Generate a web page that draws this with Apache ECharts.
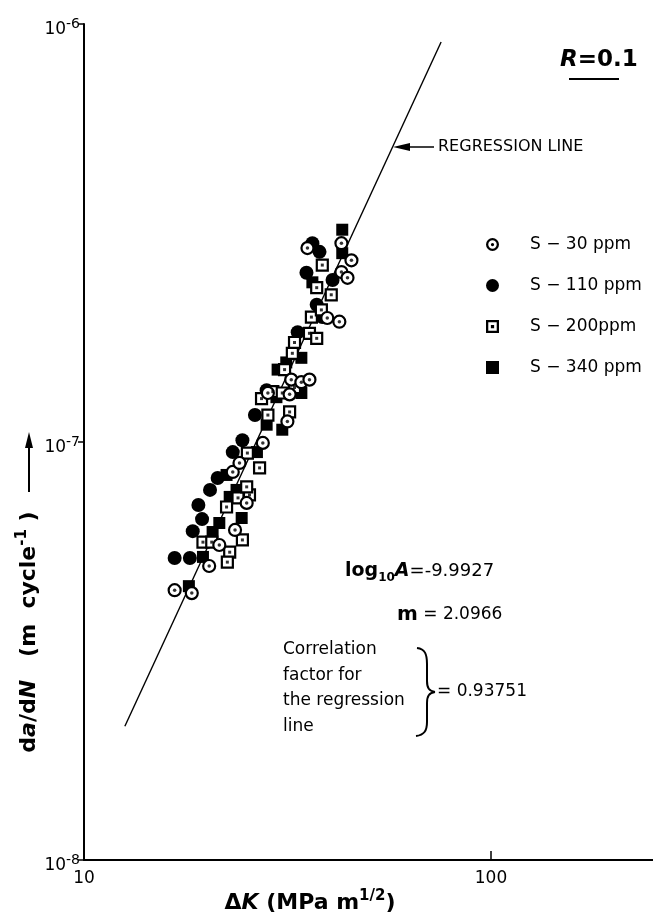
<!DOCTYPE html>
<html><head><meta charset="utf-8">
<script src="https://cdn.jsdelivr.net/npm/echarts@6/dist/echarts.min.js"></script>
<style>html,body{margin:0;padding:0;background:#fff}#c{width:653px;height:916px}</style>
</head><body><div id="c"></div>
<script>
// ---- data (ΔK in MPa m^1/2, da/dN in m/cycle) ----
const legendNames = ['S − 30 ppm', 'S − 110 ppm', 'S − 200ppm', 'S − 340 ppm'];
const s30 = [[16.7,4.42e-8],[18.4,4.35e-8],[20.3,5.05e-8],[21.5,5.67e-8],[23.5,6.16e-8],[25.1,7.15e-8],[23.2,8.48e-8],[24.1,8.91e-8],[27.5,9.95e-8],[31.6,1.12e-7],[28.3,1.31e-7],[32.0,1.30e-7],[32.3,1.41e-7],[34.2,1.39e-7],[35.8,1.41e-7],[39.6,1.98e-7],[42.4,1.94e-7],[35.4,2.91e-7],[42.9,2.99e-7],[45.4,2.72e-7],[42.9,2.55e-7],[44.4,2.47e-7]];
const s110 = [[16.7,5.28e-8],[18.2,5.28e-8],[18.5,6.12e-8],[19.5,6.54e-8],[19.1,7.07e-8],[20.4,7.68e-8],[21.3,8.20e-8],[23.2,9.46e-8],[24.5,1.01e-7],[26.3,1.16e-7],[28.1,1.33e-7],[33.5,1.83e-7],[37.3,2.13e-7],[38.5,1.99e-7],[36.4,2.99e-7],[37.9,2.85e-7],[35.2,2.54e-7],[40.8,2.44e-7]];
const s200 = [[19.6,5.76e-8],[20.6,5.76e-8],[22.8,5.45e-8],[22.5,5.16e-8],[24.5,5.83e-8],[22.4,6.99e-8],[23.9,7.35e-8],[25.5,7.47e-8],[25.2,9.41e-8],[27.0,8.67e-8],[28.3,1.16e-7],[32.0,1.18e-7],[27.3,1.27e-7],[25.1,7.81e-8],[36.2,1.99e-7],[35.8,1.82e-7],[37.3,1.77e-7],[32.9,1.73e-7],[32.5,1.63e-7],[31.1,1.49e-7],[32.9,1.35e-7],[29.1,1.32e-7],[30.7,1.31e-7],[38.5,2.65e-7],[37.3,2.34e-7],[40.5,2.25e-7],[38.3,2.07e-7]];
const s340 = [[18.1,4.52e-8],[19.6,5.31e-8],[20.7,6.09e-8],[21.5,6.40e-8],[24.4,6.58e-8],[22.8,7.39e-8],[22.4,8.34e-8],[26.6,9.46e-8],[23.7,7.68e-8],[28.1,1.10e-7],[30.7,1.07e-7],[29.7,1.28e-7],[34.2,1.59e-7],[31.4,1.55e-7],[29.9,1.49e-7],[36.4,2.41e-7],[43.1,3.22e-7],[43.1,2.83e-7],[34.2,1.31e-7]];
const regressionLine = [[12.6,2.09e-8],[75.4,9.06e-7]];
const xRange = [10, 250];
const yRange = [1e-8, 1e-6];

const FONT = 'DejaVu Sans';
const ringDot = 'path://M0,-10 A10,10 0 1 1 0,10 A10,10 0 1 1 0,-10 Z M0,-6.5 A6.5,6.5 0 1 0 0,6.5 A6.5,6.5 0 1 0 0,-6.5 Z M0,-2.5 A2.5,2.5 0 1 1 0,2.5 A2.5,2.5 0 1 1 0,-2.5 Z';
const squareDot = 'path://M-10,-10 L10,-10 L10,10 L-10,10 Z M-6.5,-6.5 L-6.5,6.5 L6.5,6.5 L6.5,-6.5 Z M-2.5,-2.5 L2.5,-2.5 L2.5,2.5 L-2.5,2.5 Z';

function isPow10(v){ const l = Math.log10(v); return Math.abs(l - Math.round(l)) < 1e-6; }
const stroke = {stroke:'#000', lineWidth:2, fill:null};

const chart = echarts.init(document.getElementById('c'), null, {renderer:'canvas'});
const option = {
  animation: false,
  backgroundColor: '#fff',
  grid: {left:84, right:0, top:24, bottom:56, containLabel:false, outerBoundsMode:'none'},
  xAxis: {
    type:'log', logBase:10, min:xRange[0], max:xRange[1],
    axisLine:{show:true, lineStyle:{color:'#000', width:2}},
    axisTick:{show:true, inside:true, length:9, lineStyle:{color:'#000', width:1.5}},
    minorTick:{show:false}, splitLine:{show:false}, minorSplitLine:{show:false},
    axisLabel:{show:true, color:'#000', fontFamily:FONT, fontSize:17, margin:10,
      showMaxLabel:false,
      formatter: v => isPow10(v) ? String(Math.round(v)) : ''}
  },
  yAxis: {
    type:'log', logBase:10, min:yRange[0], max:yRange[1],
    axisLine:{show:true, lineStyle:{color:'#000', width:2}},
    axisTick:{show:true, inside:false, length:6, lineStyle:{color:'#000', width:1.5}},
    minorTick:{show:false}, splitLine:{show:false}, minorSplitLine:{show:false},
    axisLabel:{show:true, color:'#000', fontFamily:FONT, margin:4, padding:[12,0,0,0],
      formatter: v => isPow10(v) ? '{b|10}{s|' + Math.round(Math.log10(v)) + '}' : '',
      rich:{b:{fontFamily:FONT, fontSize:17, color:'#000', lineHeight:26, verticalAlign:'middle'},
            s:{fontFamily:FONT, fontSize:14, color:'#000', lineHeight:14, verticalAlign:'top'}}}
  },
  legend: {
    orient:'vertical', left:481, top:231, itemWidth:13, itemHeight:13, itemGap:24,
    selectedMode:false,
    formatter: n => '{sp|}{t|' + n + '}',
    textStyle:{color:'#000', fontFamily:FONT, fontSize:17,
      rich:{sp:{width:26}, t:{fontFamily:FONT, fontSize:17, color:'#000'}}},
    data:[
      {name:legendNames[0], icon:ringDot, itemStyle:{color:'#000', borderWidth:0}},
      {name:legendNames[1], icon:'circle', itemStyle:{color:'#000', borderWidth:0}},
      {name:legendNames[2], icon:squareDot, itemStyle:{color:'#000', borderWidth:0}},
      {name:legendNames[3], icon:'rect', itemStyle:{color:'#000', borderWidth:0}}
    ]
  },
  series: [
    {type:'line', name:'regression', data:regressionLine, symbol:'none', silent:true,
     lineStyle:{color:'#000', width:1.4}, z:1},
    {type:'scatter', name:legendNames[1], data:s110, symbol:'circle', symbolSize:14, silent:true,
     itemStyle:{color:'#000', opacity:1}, z:2},
    {type:'scatter', name:legendNames[3], data:s340, symbol:'rect', symbolSize:12, silent:true,
     itemStyle:{color:'#000', opacity:1}, z:2},
    {type:'scatter', name:legendNames[2], data:s200, symbol:'rect', symbolSize:11, silent:true,
     itemStyle:{color:'#fff', borderColor:'#000', borderWidth:2.2, opacity:1}, z:3},
    {type:'scatter', name:legendNames[0], data:s30, symbol:'circle', symbolSize:12, silent:true,
     itemStyle:{color:'#fff', borderColor:'#000', borderWidth:2.2, opacity:1}, z:3},
    {type:'scatter', name:'dot200', data:s200, symbol:'rect', symbolSize:3, silent:true,
     itemStyle:{color:'#000'}, z:4},
    {type:'scatter', name:'dot30', data:s30, symbol:'circle', symbolSize:3.5, silent:true,
     itemStyle:{color:'#000'}, z:4}
  ],
  graphic: [
    {type:'text', x:560, y:60, style:{text:'{r|R}{n|=0.1}', align:'left', verticalAlign:'middle',
      textAlign:'left', textVerticalAlign:'middle',
      rich:{r:{fontFamily:FONT, fontSize:23, fontWeight:'bold', fontStyle:'italic', fill:'#000'},
            n:{fontFamily:FONT, fontSize:23, fontWeight:'bold', fill:'#000'}}}},
    {type:'line', shape:{x1:569, y1:79, x2:619, y2:79}, style:{stroke:'#000', lineWidth:2}},
    {type:'text', x:438, y:147, style:{text:'REGRESSION LINE', fontFamily:FONT, fontSize:16, fill:'#000',
      align:'left', verticalAlign:'middle', textAlign:'left', textVerticalAlign:'middle'}},
    {type:'line', shape:{x1:404, y1:147, x2:434, y2:147}, style:{stroke:'#000', lineWidth:1.5}},
    {type:'polygon', shape:{points:[[393,147],[410,143],[410,151]]}, style:{fill:'#000'}},
    {type:'text', x:345, y:571, style:{text:'{l|log}{sub|10}{a|A}{n|=-9.9927}', align:'left', verticalAlign:'middle',
      textAlign:'left', textVerticalAlign:'middle',
      rich:{l:{fontFamily:FONT, fontSize:19, fontWeight:'bold', fill:'#000', lineHeight:26, verticalAlign:'middle'},
            sub:{fontFamily:FONT, fontSize:12, fontWeight:'bold', fill:'#000', lineHeight:12, verticalAlign:'bottom'},
            a:{fontFamily:FONT, fontSize:19, fontWeight:'bold', fontStyle:'italic', fill:'#000', lineHeight:26, verticalAlign:'middle'},
            n:{fontFamily:FONT, fontSize:18, fill:'#000', lineHeight:26, verticalAlign:'middle'}}}},
    {type:'text', x:397, y:615, style:{text:'{m|m}{n| = 2.0966}', align:'left', verticalAlign:'middle',
      textAlign:'left', textVerticalAlign:'middle',
      rich:{m:{fontFamily:FONT, fontSize:20, fontWeight:'bold', fill:'#000'},
            n:{fontFamily:FONT, fontSize:17, fill:'#000'}}}},
    {type:'text', x:283, y:637, style:{text:'Correlation\nfactor for\nthe regression\nline', fontFamily:FONT, fontSize:17,
      lineHeight:25.5, fill:'#000', align:'left', verticalAlign:'top', textAlign:'left', textVerticalAlign:'top'}},
    // brace }
    {type:'bezierCurve', shape:{x1:417, y1:648, cpx1:425, cpy1:649, cpx2:427, cpy2:654, x2:427, y2:664}, style:stroke},
    {type:'line', shape:{x1:427, y1:664, x2:427, y2:681}, style:stroke},
    {type:'bezierCurve', shape:{x1:427, y1:681, cpx1:427, cpy1:688, cpx2:429, cpy2:691, x2:435, y2:692}, style:stroke},
    {type:'bezierCurve', shape:{x1:435, y1:692, cpx1:429, cpy1:693, cpx2:427, cpy2:696, x2:427, y2:703}, style:stroke},
    {type:'line', shape:{x1:427, y1:703, x2:427, y2:722}, style:stroke},
    {type:'bezierCurve', shape:{x1:427, y1:722, cpx1:427, cpy1:731, cpx2:424, cpy2:735, x2:416, y2:736}, style:stroke},
    {type:'text', x:437, y:692, style:{text:'= 0.93751', fontFamily:FONT, fontSize:17, fill:'#000',
      align:'left', verticalAlign:'middle', textAlign:'left', textVerticalAlign:'middle'}},
    {type:'text', x:29, y:632, rotation:Math.PI/2,
      style:{text:'{n|d}{i|a}{n|/d}{i|N}{n|   (m  cycle}{s|-1}{n| )}', align:'center', verticalAlign:'middle',
      textAlign:'center', textVerticalAlign:'middle',
      rich:{n:{fontFamily:FONT, fontSize:22, fontWeight:'bold', fill:'#000', lineHeight:28, verticalAlign:'middle'},
            i:{fontFamily:FONT, fontSize:22, fontWeight:'bold', fontStyle:'italic', fill:'#000', lineHeight:28, verticalAlign:'middle'},
            s:{fontFamily:FONT, fontSize:15, fontWeight:'bold', fill:'#000', lineHeight:15, verticalAlign:'top'}}}},
    {type:'line', shape:{x1:29, y1:492, x2:29, y2:445}, style:{stroke:'#000', lineWidth:2}},
    {type:'polygon', shape:{points:[[29,432],[25,448],[33,448]]}, style:{fill:'#000'}},
    {type:'text', x:310, y:903, style:{text:'{n|Δ}{i|K}{n| (MPa m}{s|1/2}{n|)}', align:'center', verticalAlign:'middle',
      textAlign:'center', textVerticalAlign:'middle',
      rich:{n:{fontFamily:FONT, fontSize:22, fontWeight:'bold', fill:'#000', lineHeight:28, verticalAlign:'middle'},
            i:{fontFamily:FONT, fontSize:22, fontWeight:'bold', fontStyle:'italic', fill:'#000', lineHeight:28, verticalAlign:'middle'},
            s:{fontFamily:FONT, fontSize:15, fontWeight:'bold', fill:'#000', lineHeight:15, verticalAlign:'top'}}}}
  ]
};
chart.setOption(option);
</script>
</body></html>
